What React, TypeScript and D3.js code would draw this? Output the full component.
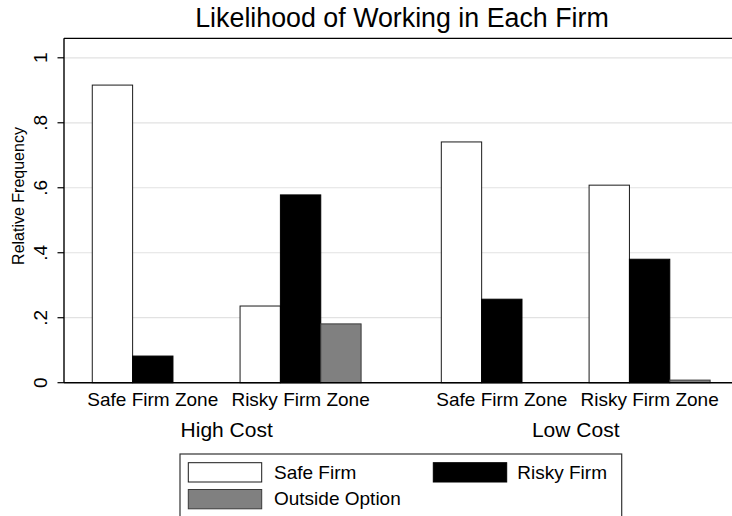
import React from "react";
import * as d3 from "d3";

const costGroups = ["High Cost", "Low Cost"];
const zones = ["Safe Firm Zone", "Risky Firm Zone"];
const seriesNames = ["Safe Firm", "Risky Firm", "Outside Option"];
// order: HC-SFZ, HC-RFZ, LC-SFZ, LC-RFZ
const safeFirm = [0.916, 0.236, 0.741, 0.608];
const riskyFirm = [0.082, 0.578, 0.257, 0.38];
const outsideOption = [0, 0.181, 0, 0.008];
const yTicks = [0, 0.2, 0.4, 0.6, 0.8, 1];
const yTickLabels = ["0", ".2", ".4", ".6", ".8", "1"];
const title = "Likelihood of Working in Each Firm";
const yTitle = "Relative Frequency";

const W = 732;
const H = 516;
const FONT = "'Liberation Sans', Arial, Helvetica, sans-serif";

export default function App() {
  const left = 64;
  const right = 738.4;
  const top = 38.3;
  const bottom = 382.7;

  const y = d3.scaleLinear().domain([0, 1.06]).range([bottom, top]);
  const outer = d3
    .scaleBand<string>()
    .domain(costGroups)
    .range([left, right])
    .paddingInner(0.2298)
    .paddingOuter(0.081);
  const inner = d3
    .scaleBand<string>()
    .domain(zones)
    .range([0, outer.bandwidth()])
    .paddingInner(0.181)
    .paddingOuter(0);
  const ser = d3
    .scaleBand<string>()
    .domain(seriesNames)
    .range([0, inner.bandwidth()])
    .padding(0);

  const seriesValues = [safeFirm, riskyFirm, outsideOption];
  const fills = ["#ffffff", "#000000", "#808080"];
  const strokes = ["#1a1a1a", "#000000", "#3a3a3a"];

  const bars: any[] = [];
  costGroups.forEach((c, ci) => {
    zones.forEach((z, zi) => {
      const idx = ci * 2 + zi;
      seriesNames.forEach((s, si) => {
        const v = seriesValues[si][idx];
        if (v <= 0) return;
        const x0 = (outer(c) as number) + (inner(z) as number) + (ser(s) as number);
        bars.push(
          <rect
            key={`${c}-${z}-${s}`}
            x={x0}
            y={y(v)}
            width={ser.bandwidth()}
            height={y(0) - y(v)}
            fill={fills[si]}
            stroke={strokes[si]}
            strokeWidth={1}
          />
        );
      });
    });
  });

  const zoneLabels: any[] = [];
  costGroups.forEach((c) => {
    zones.forEach((z) => {
      const cx = (outer(c) as number) + (inner(z) as number) + inner.bandwidth() / 2;
      zoneLabels.push(
        <text key={`${c}-${z}`} x={cx} y={406} textAnchor="middle" fontSize={19} fontFamily={FONT} fill="#000">
          {z}
        </text>
      );
    });
  });

  const legendItems = [
    { name: seriesNames[0], kx: 188.3, ky: 462.7, tx: 274, ty: 478.5 },
    { name: seriesNames[1], kx: 433.3, ky: 462.7, tx: 517.3, ty: 478.5 },
    { name: seriesNames[2], kx: 188.3, ky: 489.5, tx: 274, ty: 505 },
  ];

  return (
    <svg
      width={W}
      height={H}
      viewBox={`0 0 ${W} ${H}`}
      style={{ position: "absolute", left: 0, top: 0, background: "#fff" }}
    >
      <rect x={0} y={0} width={W} height={H} fill="#ffffff" />
      {/* gridlines */}
      {yTicks.slice(1).map((t) => (
        <line key={t} x1={left} x2={W} y1={y(t)} y2={y(t)} stroke="#e2e2e2" strokeWidth={1.2} />
      ))}
      {/* frame top */}
      <line x1={left} x2={W} y1={top} y2={top} stroke="#000" strokeWidth={1.2} />
      {bars}
      {/* axes */}
      <line x1={left} x2={W} y1={bottom} y2={bottom} stroke="#000" strokeWidth={1.4} />
      <line x1={left} x2={left} y1={top} y2={bottom} stroke="#000" strokeWidth={1.4} />
      {yTicks.map((t, i) => (
        <g key={t}>
          <line x1={left - 6.5} x2={left} y1={y(t)} y2={y(t)} stroke="#000" strokeWidth={1.2} />
          <text
            x={47}
            y={y(t)}
            transform={`rotate(-90, 47, ${y(t)})`}
            textAnchor="middle"
            fontSize={19}
            fontFamily={FONT}
            fill="#000"
          >
            {yTickLabels[i]}
          </text>
        </g>
      ))}
      <text
        x={24}
        y={196}
        transform={`rotate(-90, 24, 196)`}
        textAnchor="middle"
        fontSize={16}
        fontFamily={FONT}
        fill="#000"
      >
        {yTitle}
      </text>
      {zoneLabels}
      {costGroups.map((c) => (
        <text
          key={c}
          x={(outer(c) as number) + outer.bandwidth() / 2}
          y={436.7}
          textAnchor="middle"
          fontSize={21}
          fontFamily={FONT}
          fill="#000"
        >
          {c}
        </text>
      ))}
      <text x={(left + right) / 2 + 0.8} y={26.7} textAnchor="middle" fontSize={26.8} fontFamily={FONT} fill="#000">
        {title}
      </text>
      {/* legend */}
      <rect x={180} y={454} width={441.7} height={70} fill="#fff" stroke="#333" strokeWidth={1.2} />
      {legendItems.map((it, i) => (
        <g key={it.name}>
          <rect x={it.kx} y={it.ky} width={73.4} height={19.3} fill={fills[i]} stroke={strokes[i]} strokeWidth={1} />
          <text x={it.tx} y={it.ty} fontSize={19} fontFamily={FONT} fill="#000">
            {it.name}
          </text>
        </g>
      ))}
    </svg>
  );
}
